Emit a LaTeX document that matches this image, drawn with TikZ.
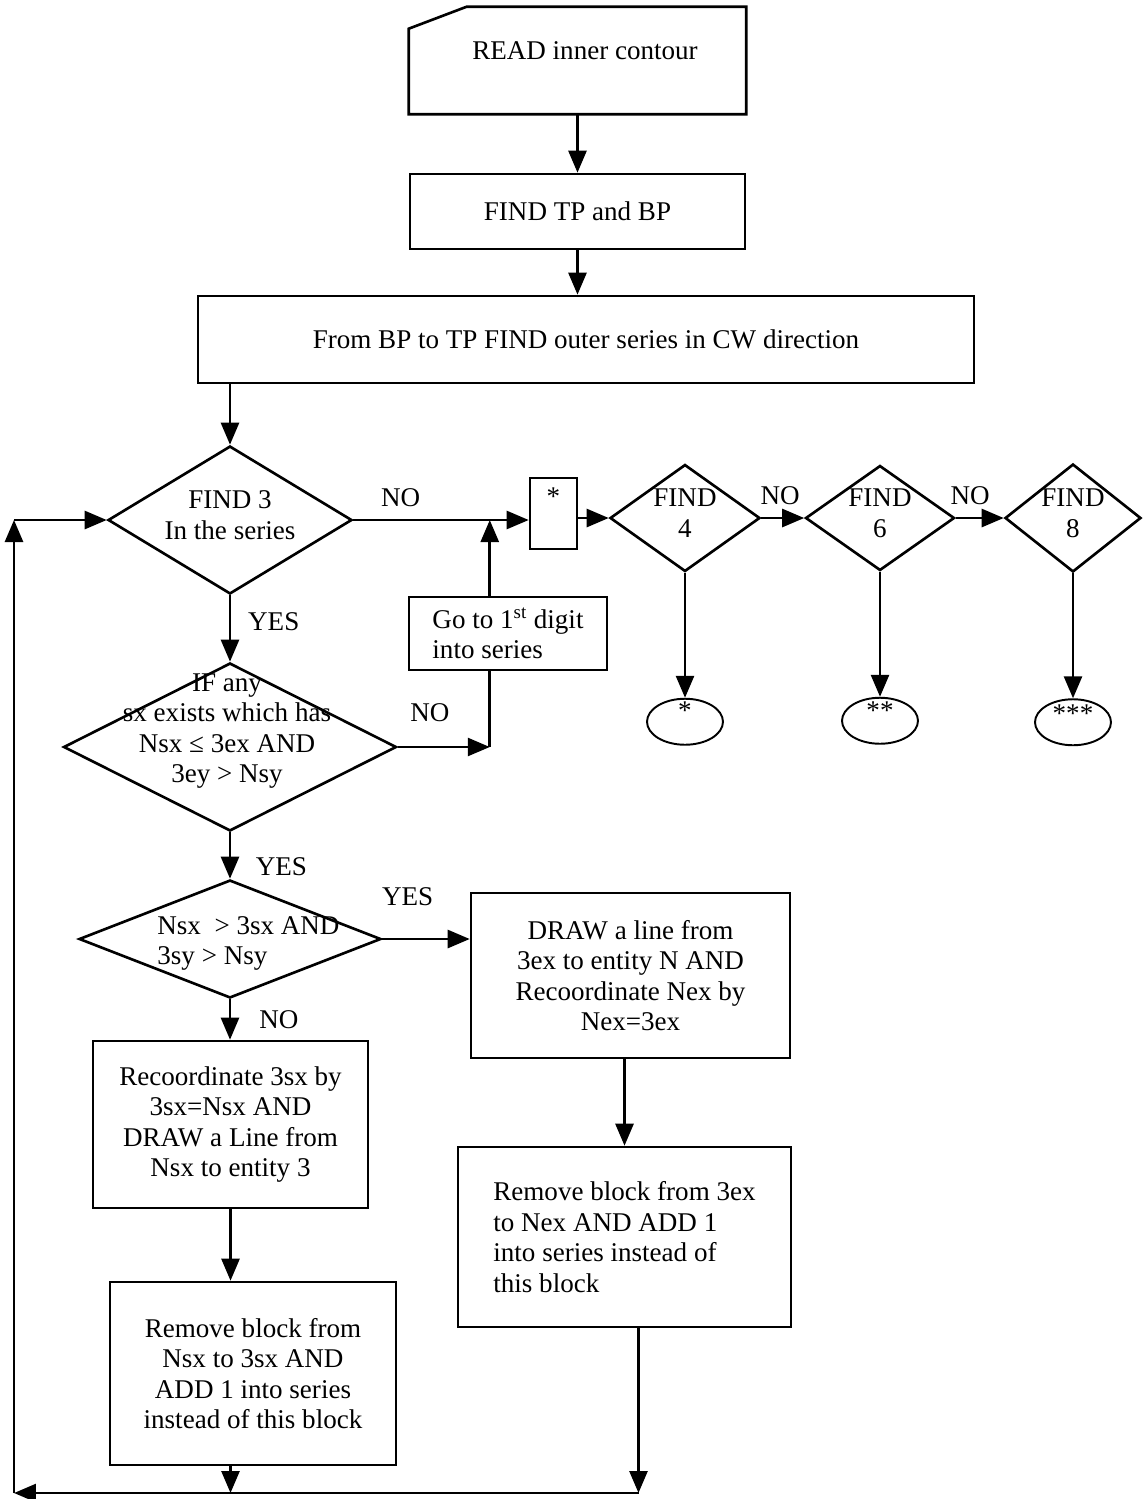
\documentclass[tikz,border=0pt]{standalone}
\usepackage{fontspec}
\setmainfont{Liberation Serif}
\usetikzlibrary{shapes.geometric,arrows.meta,positioning}

\begin{document}
\begin{tikzpicture}[
    x=0.02cm, y=-0.02cm,
    every node/.style={font=\fontsize{15.4}{17.4}\selectfont},
    box/.style={rectangle, draw, line width=1.5pt, inner sep=0pt},
    decision/.style={diamond, draw, line width=1.5pt, inner sep=0pt},
    term/.style={ellipse, draw, line width=1.1pt, minimum width=1.52cm, minimum height=0.92cm, inner sep=0pt},
    arrow/.style={-{Triangle[length=0.44cm, width=0.36cm]}, line width=1.5pt},
    lbl/.style={inner sep=0pt}
]
\useasboundingbox (0,0) rectangle (1148,1499);

% Input card and first steps
\node[box, draw=none, minimum width=6.7cm, minimum height=2.1cm,
      label={[xshift=0.15cm, yshift=0.2cm]center:READ inner contour}] (read) at (577.5,60.5) {};
\draw[line width=1.5pt] ([yshift=-0.44cm]read.north west) -- ([xshift=1.16cm]read.north west)
    -- (read.north east) -- (read.south east) -- (read.south west) -- cycle;
\node[box, minimum width=6.7cm, minimum height=1.5cm] (tpbp) at (577.5,211.5) {FIND TP and BP};
\node[box, minimum width=15.52cm, minimum height=1.74cm] (outer) at (586,339.5) {From BP to TP FIND outer series in CW direction};

% Searching for 3, 4, 6, 8
\node[decision, minimum width=4.88cm, minimum height=2.96cm,
      label={[align=center, yshift=0.1cm]center:FIND 3\\In the series}] (find3) at (230,520) {};
\node[box, minimum width=0.94cm, minimum height=1.42cm, label={[yshift=0.33cm]center:*}] (star) at (553.5,513.5) {};
\node[decision, minimum width=3cm, minimum height=2.14cm,
      label={[align=center, yshift=0.1cm]center:FIND\\4}] (find4) at (685,518) {};
\node[decision, minimum width=2.98cm, minimum height=2.1cm,
      label={[align=center, yshift=0.1cm]center:FIND\\6}] (find6) at (880,518) {};
\node[decision, minimum width=2.72cm, minimum height=2.16cm,
      label={[align=center, yshift=0.1cm]center:FIND\\8}] (find8) at (1073,518) {};

\node[term, below=2.5cm of find4, label={[yshift=0.22cm]center:*}] (end4) {};
\node[term, below=2.5cm of find6, label={[yshift=0.2cm]center:**}] (end6) {};
\node[term, below=2.5cm of find8, label={[yshift=0.18cm]center:***}] (end8) {};

\node[box, minimum width=3.96cm, minimum height=1.46cm, align=left] (gofirst) at (508,633.5) {Go to 1\textsuperscript{st} digit\\into series};

% Checks on sx
\node[decision, minimum width=6.66cm, minimum height=3.36cm,
      label={[align=center, xshift=-0.06cm, yshift=0.32cm]center:IF any\\sx exists which has\\Nsx ≤ 3ex AND\\3ey > Nsy}] (ifany) at (230,747) {};
\coordinate[right=1.84cm of ifany.east] (nojoin);
\node[decision, minimum width=6.04cm, minimum height=2.36cm,
      label={[align=left, xshift=0.37cm, yshift=-0.09cm]center:Nsx\ \ > 3sx AND\\3sy > Nsy}] (nsx) at (230,939) {};

% Actions
\node[box, minimum width=6.38cm, minimum height=3.3cm, align=center] (drawline) at (630.5,975.5) {DRAW a line from\\3ex to entity N AND\\Recoordinate Nex by\\Nex=3ex};
\node[box, minimum width=5.5cm, minimum height=3.34cm, align=center] (recoord) at (230.5,1124.5) {Recoordinate 3sx by\\3sx=Nsx AND\\DRAW a Line from\\Nsx to entity 3};
\node[box, minimum width=5.72cm, minimum height=3.66cm, align=center] (remove1) at (253,1373.5) {Remove block from\\Nsx to 3sx AND\\ADD 1 into series\\instead of this block};
\node[box, minimum width=6.66cm, minimum height=3.6cm, align=left] (remove2) at (624.5,1237) {Remove block from 3ex\\to Nex AND ADD 1\\into series instead of\\this block};

\coordinate (r2out) at ([xshift=0.28cm]remove2.south);
\coordinate (corner) at (14,1493);

% Main flow
\draw[arrow] (read) -- (tpbp);
\draw[arrow] (tpbp.south) -- (tpbp.south |- outer.north);
\draw[arrow] (find3.north |- outer.south) -- (find3.north);
\draw[arrow] (find3.east) -- node[lbl, above=6.9pt, pos=0.27] {NO} (find3.east -| star.west);
\draw[arrow] (star.east |- find4.west) -- (find4.west);
\draw[arrow] (find4.east) -- node[lbl, above=6.9pt, pos=0.44] {NO} (find6.west);
\draw[arrow] (find6.east) -- node[lbl, above=6.9pt, pos=0.3] {NO} (find8.west);
\draw[arrow] (find4) -- (end4);
\draw[arrow] (find6) -- (end6);
\draw[arrow] (find8) -- (end8);

\draw[arrow] (find3.south) -- node[lbl, right=9.6pt, pos=0.4] {YES} (ifany.north);
\draw[arrow] (ifany.east) -- node[lbl, above=13.7pt, pos=0.35] {NO} (nojoin);
\draw[line width=1.5pt] (nojoin) -- (nojoin |- gofirst.south);
\draw[arrow] (nojoin |- gofirst.north) -- (nojoin |- find3.east);

\draw[arrow] (ifany.south) -- node[lbl, right=14pt, pos=0.73] {YES} (nsx.north);
\draw[arrow] (nsx.east) -- node[lbl, above=18pt, pos=0.29] {YES} (nsx.east -| drawline.west);
\draw[arrow] (nsx.south) -- node[lbl, right=16pt, pos=0.51] {NO} (nsx.south |- recoord.north);
\draw[arrow] (recoord.south) -- (recoord.south |- remove1.north);
\draw[arrow] (remove2.north |- drawline.south) -- (remove2.north);

% Back to the search
\draw[arrow] (recoord.south |- remove1.south) -- (recoord.south |- corner);
\draw[arrow] (r2out) -- (r2out |- corner);
\draw[arrow] (r2out |- corner) -- (corner);
\draw[arrow] (corner) -- (corner |- find3.west);
\draw[arrow] (corner |- find3.west) -- (find3.west);

\end{tikzpicture}
\end{document}
